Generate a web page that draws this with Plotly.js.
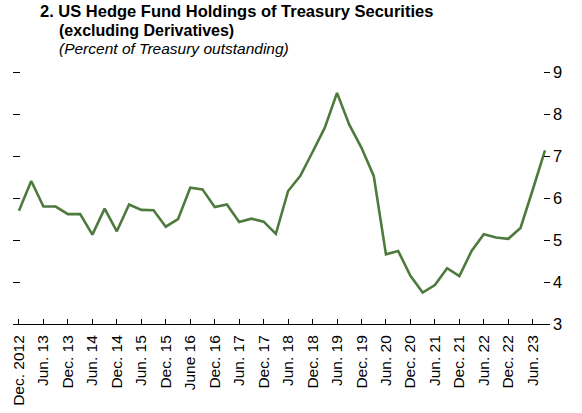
<!DOCTYPE html>
<html>
<head>
<meta charset="utf-8">
<script src="https://cdn.plot.ly/plotly-3.0.1.min.js"></script>
<style>html,body{margin:0;padding:0;background:#fff;}#chart{width:582px;height:413px;}</style>
</head>
<body>
<div id="chart"></div>
<script>
// Quarterly observations, Dec 2012 - Sep 2023
const quarters = [
  "2012Q4","2013Q1","2013Q2","2013Q3","2013Q4","2014Q1","2014Q2","2014Q3",
  "2014Q4","2015Q1","2015Q2","2015Q3","2015Q4","2016Q1","2016Q2","2016Q3",
  "2016Q4","2017Q1","2017Q2","2017Q3","2017Q4","2018Q1","2018Q2","2018Q3",
  "2018Q4","2019Q1","2019Q2","2019Q3","2019Q4","2020Q1","2020Q2","2020Q3",
  "2020Q4","2021Q1","2021Q2","2021Q3","2021Q4","2022Q1","2022Q2","2022Q3",
  "2022Q4","2023Q1","2023Q2","2023Q3"
];
const holdingsPct = [
  5.70, 6.41, 5.80, 5.80, 5.62, 5.62, 5.13, 5.75,
  5.21, 5.85, 5.72, 5.71, 5.32, 5.50, 6.25, 6.21,
  5.79, 5.85, 5.43, 5.51, 5.44, 5.15, 6.17, 6.53,
  7.10, 7.68, 8.51, 7.75, 7.20, 6.53, 4.66, 4.74,
  4.15, 3.75, 3.93, 4.33, 4.14, 4.74, 5.14, 5.06,
  5.03, 5.29, 6.20, 7.14
];
const tickQuarters = [
  "2012Q4","2013Q2","2013Q4","2014Q2","2014Q4","2015Q2","2015Q4","2016Q2",
  "2016Q4","2017Q2","2017Q4","2018Q2","2018Q4","2019Q2","2019Q4","2020Q2",
  "2020Q4","2021Q2","2021Q4","2022Q2","2022Q4","2023Q2"
];
const tickLabels = [
  "Dec. 2012","Jun. 13","Dec. 13","Jun. 14","Dec. 14","Jun. 15","Dec. 15","June 16",
  "Dec. 16","Jun. 17","Dec. 17","Jun. 18","Dec. 18","Jun. 19","Dec. 19","Jun. 20",
  "Dec. 20","Jun. 21","Dec. 21","Jun. 22","Dec. 22","Jun. 23"
];
const yTicks = [3,4,5,6,7,8,9];

const FONT = '"Liberation Sans Narrow", "Arial Narrow", "Liberation Sans", Arial, sans-serif';

const trace = {
  x: quarters,
  y: holdingsPct,
  type: 'scatter',
  mode: 'lines',
  line: {color: '#4e7a3e', width: 2.6},
  hoverinfo: 'skip'
};

const layout = {
  width: 582, height: 413,
  margin: {l: 13, r: 32, t: 65.7, b: 89},
  paper_bgcolor: '#fff', plot_bgcolor: '#fff',
  showlegend: false,
  font: {family: FONT, size: 16, color: '#000'},
  xaxis: {
    type: 'category',
    categoryorder: 'array', categoryarray: quarters,
    range: [-0.49, 43.41],
    tickmode: 'array', tickvals: tickQuarters, ticktext: tickLabels,
    tickangle: -90,
    ticks: 'inside', ticklen: 5, tickwidth: 1, tickcolor: '#000',
    showline: true, linecolor: '#000', linewidth: 1,
    showgrid: false, zeroline: false,
    tickfont: {family: FONT, size: 15.5, color: '#000'},
    ticklabelstandoff: 4,
    fixedrange: true
  },
  yaxis: {
    range: [3, 9.15],
    tickmode: 'array', tickvals: yTicks,
    ticks: 'inside', ticklen: 7, tickwidth: 1, tickcolor: '#000',
    showticklabels: false,
    showline: false, showgrid: false, zeroline: false,
    fixedrange: true
  },
  yaxis2: {
    overlaying: 'y', side: 'right',
    range: [3, 9.15],
    tickmode: 'array', tickvals: yTicks,
    ticks: 'inside', ticklen: 6, tickwidth: 1, tickcolor: '#000',
    showline: false, showgrid: false, zeroline: false,
    tickfont: {family: FONT, size: 16.5, color: '#000'},
    ticklabelstandoff: 2,
    fixedrange: true
  },
  annotations: [
    {text: '<b>2. US Hedge Fund Holdings of Treasury Securities</b>', xref: 'paper', yref: 'paper',
     x: 0.0466, y: 1.2118, xanchor: 'left', yanchor: 'middle', showarrow: false,
     font: {family: FONT, size: 16.5, color: '#000'}},
    {text: '<b>(excluding Derivatives)</b>', xref: 'paper', yref: 'paper',
     x: 0.0819, y: 1.1382, xanchor: 'left', yanchor: 'middle', showarrow: false,
     font: {family: FONT, size: 16, color: '#000'}},
    {text: '<i>(Percent of Treasury outstanding)</i>', xref: 'paper', yref: 'paper',
     x: 0.0819, y: 1.0685, xanchor: 'left', yanchor: 'middle', showarrow: false,
     font: {family: FONT, size: 15.5, color: '#000'}}
  ]
};

const trace2 = {x: [quarters[0]], y: [null], yaxis: 'y2', type: 'scatter', mode: 'lines', hoverinfo: 'skip', showlegend: false};

Plotly.newPlot('chart', [trace, trace2], layout, {displayModeBar: false, staticPlot: true});
</script>
</body>
</html>
